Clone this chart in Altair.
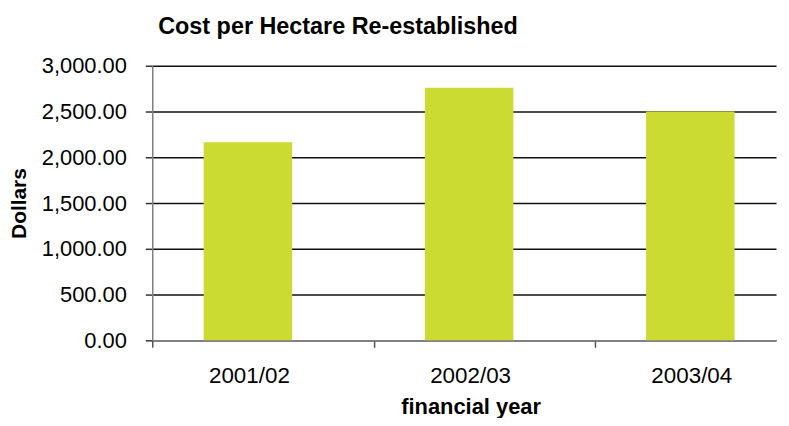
import altair as alt
import pandas as pd

years = ["2001/02", "2002/03", "2003/04"]
cost = [2163, 2761, 2500]

df = pd.DataFrame({"year": years, "cost": cost})

FONT = "Liberation Sans"

chart = alt.Chart(df).mark_bar(color="#CCDB32", xOffset=5).encode(
    x=alt.X(
        "year:N",
        sort=years,
        scale=alt.Scale(paddingInner=0.6, paddingOuter=0.21),
        axis=alt.Axis(
            title="financial year",
            labelAngle=0,
            tickOffset=-91,
            labelOffset=97,
            tickSize=7,
            tickColor="#555555",
            tickWidth=1.5,
            domainColor="#808080",
            domainWidth=1.5,
            labelFontSize=22.5,
            labelFont=FONT,
            labelColor="#000000",
            labelPadding=17,
            titleFont=FONT,
            titleFontSize=22,
            titleFontWeight="bold",
            titleColor="#000000",
            titlePadding=10,
            titleX=320,
            titleAlign="center",
            grid=False,
        ),
    ),
    y=alt.Y(
        "cost:Q",
        scale=alt.Scale(domain=[0, 3000]),
        axis=alt.Axis(
            title="Dollars",
            values=[0, 500, 1000, 1500, 2000, 2500, 3000],
            format=",.2f",
            tickSize=7,
            tickColor="#333333",
            tickWidth=1.5,
            domainColor="#808080",
            domainWidth=1.5,
            gridColor="#111111",
            gridWidth=1.5,
            labelFontSize=22,
            labelFont=FONT,
            labelColor="#000000",
            labelPadding=19,
            titleFont=FONT,
            titleFontSize=21,
            titleFontWeight="bold",
            titleColor="#000000",
            titleX=-133,
            titleY=138,
            titleBaseline="middle",
            titleAlign="center",
        ),
    ),
).properties(
    width=627,
    height=276,
    title=alt.TitleParams(
        "Cost per Hectare Re-established",
        anchor="start",
        frame="group",
        font=FONT,
        fontSize=23.5,
        fontWeight="bold",
        color="#000000",
        offset=16,
        dx=6,
    ),
    autosize=alt.AutoSizeParams(type="none"),
    padding={"left": 145, "top": 57, "right": 5, "bottom": 77},
).configure_view(stroke=None)

chart.save("out.html", embed_options={"renderer": "svg", "actions": False})
